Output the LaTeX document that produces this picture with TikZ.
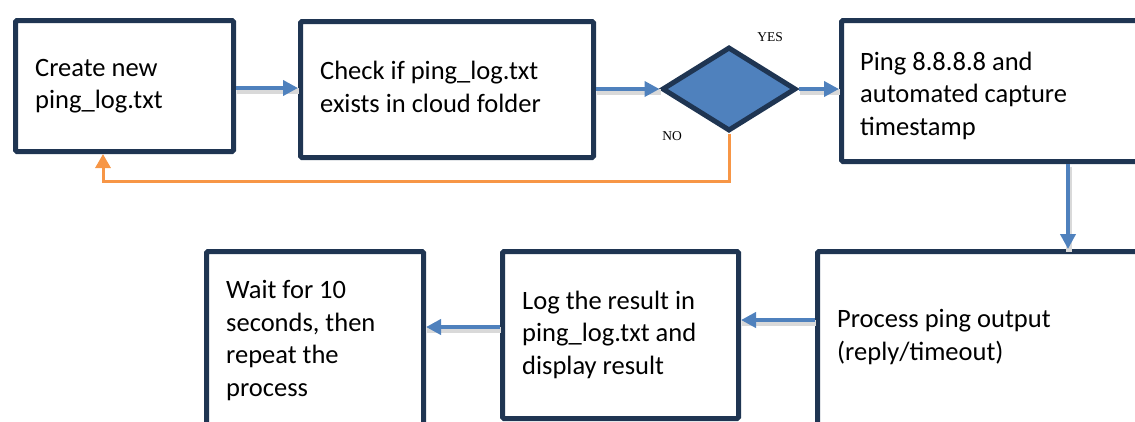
\documentclass[tikz,border=0pt]{standalone}
\usepackage{fontspec}
\setmainfont{Carlito}
\newfontfamily\labelfont{Liberation Serif}
\usetikzlibrary{arrows.meta,shapes.geometric,calc}
\definecolor{navy}{HTML}{1F3552}
\definecolor{ablue}{HTML}{4F81BD}
\definecolor{aorange}{HTML}{F79646}
\tikzset{
  box/.style={draw=navy, line width=5pt, fill=white, rounded corners=1.5pt, anchor=north west, inner sep=0pt},
  txt/.style={anchor=base west, align=left, inner sep=0pt, font=\fontsize{26.5}{32.5}\selectfont},
  flow/.style={draw=ablue, line width=4pt, -{Triangle[length=15pt,width=15pt]},
    preaction={draw=black!15, line width=6pt, -, transform canvas={shift={(1pt,-2.5pt)}}}},
  noflow/.style={draw=aorange, line width=3pt, -{Triangle[length=14pt,width=15pt]}},
  yn/.style={font=\labelfont\fontsize{13.5}{16}\selectfont, inner sep=0pt}
}
\begin{document}
\begin{tikzpicture}[x=1pt,y=-1pt]
\useasboundingbox (0,0) rectangle (1135,421);
\clip (0,0) rectangle (1135,421);
% boxes
\node[box, minimum width=218pt, minimum height=131pt] (b1) at (13,18) {};
\node[box, minimum width=293pt, minimum height=136pt] (b2) at (298,19) {};
\node[box, minimum width=306pt, minimum height=141pt] (b3) at (839,18) {};
\node[box, minimum width=330pt, minimum height=200pt] (b4) at (815,249) {};
\node[box, minimum width=236pt, minimum height=167pt] (b5) at (500,249) {};
\node[box, minimum width=217pt, minimum height=200pt] (b6) at (204,249) {};
\node[diamond, draw=navy, fill=ablue, line width=5pt, minimum width=134pt, minimum height=84pt, inner sep=0pt] (dia) at (729,89) {};
% texts (anchored at the baseline of the last line)
\node[txt] (t1) at (35,108.5) {Create new\\ping\_log.txt};
\node[txt] (t2) at (320,112) {Check if ping\_log.txt\\exists in cloud folder};
\node[txt] (t3) at (860,135) {Ping 8.8.8.8 and\\automated capture\\timestamp};
\node[txt] (t4) at (837,360) {Process ping output\\(reply/timeout)};
\node[txt] (t5) at (522,374) {Log the result in\\ping\_log.txt and\\display result};
\node[txt] (t6) at (226,396) {Wait for 10\\seconds, then\\repeat the\\process};
\node[yn] (yes) at (770,37) {YES};
\node[yn] (no) at (672,136) {NO};
% helper coordinates
\coordinate (y1) at (0,88);
\coordinate (y2) at (0,89);
\coordinate (x3) at (1068,0);
\coordinate (y4) at (0,320);
\coordinate (y5) at (0,327);
\coordinate (nob) at (0,181);
\coordinate (nox) at (103,0);
% connectors
\draw[flow] (b1.east |- y1) -- (b2.west |- y1);
\draw[flow] (b2.east |- y2) -- (dia.west);
\draw[flow] (dia.east) -- (b3.west |- dia.east);
\draw[flow] (b3.south -| x3) -- (b4.north -| x3);
\draw[flow] (b4.west |- y4) -- (b5.east |- y4);
\draw[flow] (b5.west |- y5) -- (b6.east |- y5);
\draw[noflow] (dia.south) -- (dia.south |- nob) -- (nox |- nob) -- (b1.south -| nox);
\end{tikzpicture}
\end{document}
